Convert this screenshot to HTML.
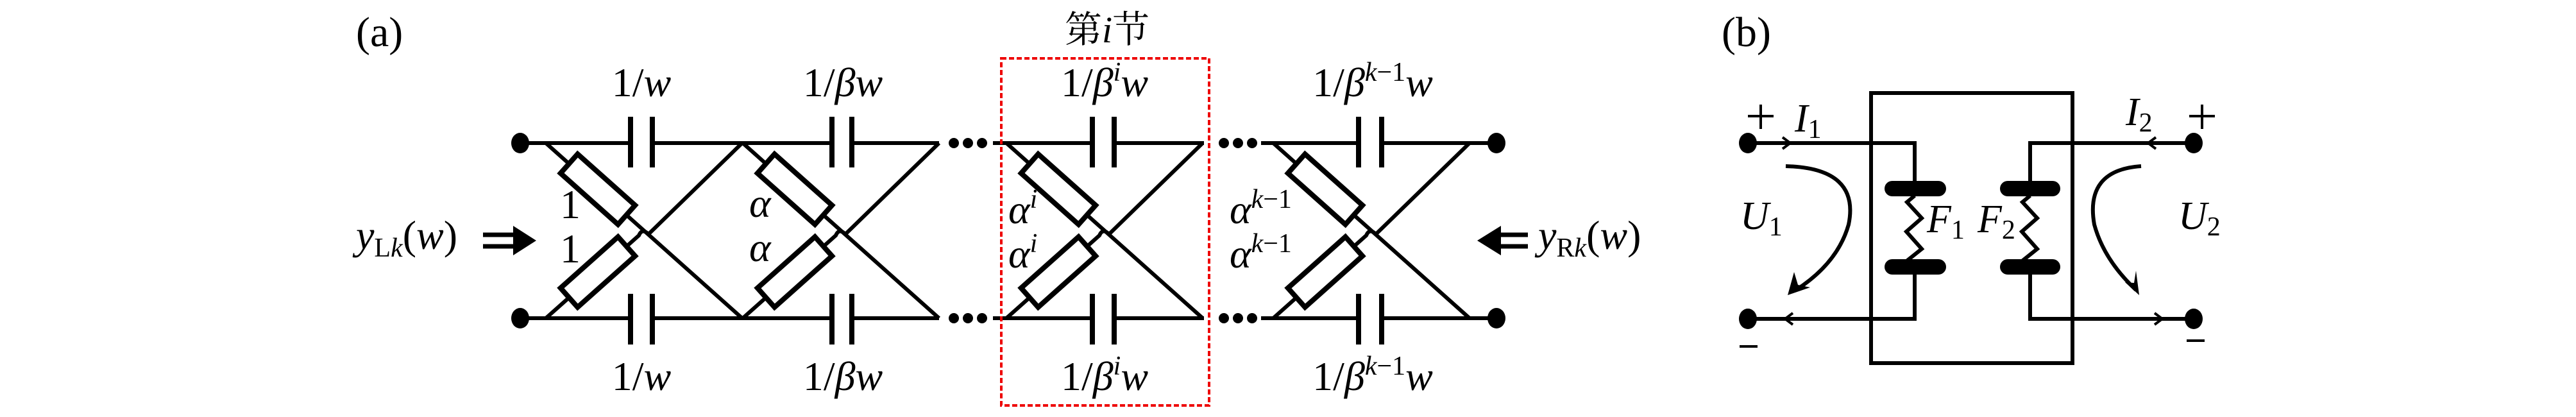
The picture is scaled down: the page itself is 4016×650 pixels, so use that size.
<!DOCTYPE html>
<html><head><meta charset="utf-8"><style>
html,body{margin:0;padding:0;background:#fff;}
svg{display:block}
text{font-family:"Liberation Serif","Noto Serif CJK SC",serif;fill:#000}
.m{font-style:italic}
</style></head><body>
<svg width="4016" height="650" viewBox="0 0 4016 650" xmlns="http://www.w3.org/2000/svg">
<g stroke="#000" fill="none" stroke-width="6" stroke-linecap="butt">
<path d="M811 223H983M1017 223H1297M1328 223H1464"/>
<path d="M811 496H983M1017 496H1297M1328 496H1464"/>
<path d="M1548 223H1703M1737 223H1877"/>
<path d="M1548 496H1703M1737 496H1877"/>
<path d="M1966 223H2118M2154 223H2333"/>
<path d="M1966 496H2118M2154 496H2333"/>
</g>
<g stroke="#000" stroke-width="8">
<path d="M983 182V261M1017 182V261M1297 182V261M1328 182V261M1703 182V261M1737 182V261M2118 182V261M2154 182V261"/>
<path d="M983 458V537M1017 458V537M1297 458V537M1328 458V537M1703 458V537M1737 458V537M2118 458V537M2154 458V537"/>
</g>
<g fill="#000">
<ellipse cx="811" cy="223" rx="14" ry="16"/><ellipse cx="811" cy="496" rx="14" ry="16"/>
<ellipse cx="2333" cy="223" rx="14" ry="16"/><ellipse cx="2333" cy="496" rx="14" ry="16"/>
<circle cx="1487" cy="223" r="8"/><circle cx="1509" cy="223" r="8"/><circle cx="1531" cy="223" r="8"/>
<circle cx="1487" cy="496" r="8"/><circle cx="1509" cy="496" r="8"/><circle cx="1531" cy="496" r="8"/>
<circle cx="1908" cy="223" r="8"/><circle cx="1930" cy="223" r="8"/><circle cx="1952" cy="223" r="8"/>
<circle cx="1908" cy="496" r="8"/><circle cx="1930" cy="496" r="8"/><circle cx="1952" cy="496" r="8"/>
</g>
<defs>
<g id="sec">
<path d="M0 0L306 273" stroke="#000" stroke-width="6" fill="none"/>
<path d="M0 273L145 144Q150 132 160 142L306 0" stroke="#000" stroke-width="6" fill="none"/>
<g transform="translate(81,72) rotate(41.7)">
<rect x="-60" y="-20" width="120" height="40" fill="#fff" stroke="#000" stroke-width="8"/>
</g>
<g transform="translate(81,201) rotate(-41.7)">
<rect x="-60" y="-20" width="120" height="40" fill="#fff" stroke="#000" stroke-width="8"/>
</g>
</g>
</defs>
<use href="#sec" transform="translate(851,223)"/>
<use href="#sec" transform="translate(1158,223)"/>
<use href="#sec" transform="translate(1569,223)"/>
<use href="#sec" transform="translate(1985,223)"/>
<rect x="1561" y="91" width="324" height="541" fill="none" stroke="#e00" stroke-width="4" stroke-dasharray="8 4"/>
<g stroke="#000" stroke-width="7"><path d="M753 366H805M753 384H805"/><path d="M2335 366H2382M2335 384H2382"/></g>
<path d="M800 352L836 375L800 398Z" fill="#000"/>
<path d="M2340 352L2303 375L2340 398Z" fill="#000"/>
<text x="555" y="72" font-size="66">(a)</text>
<text x="1660" y="66" font-size="58">第<tspan class="m">i</tspan>节</text>
<g font-size="64">
<text x="1000" y="150" text-anchor="middle">1/<tspan class="m">w</tspan></text>
<text x="1000" y="608" text-anchor="middle">1/<tspan class="m">w</tspan></text>
<text x="1314" y="150" text-anchor="middle">1/<tspan class="m">βw</tspan></text>
<text x="1314" y="608" text-anchor="middle">1/<tspan class="m">βw</tspan></text>
<text x="1722" y="150" text-anchor="middle">1/<tspan class="m">β</tspan><tspan class="m" font-size="42" dy="-24">i</tspan><tspan class="m" dy="24">w</tspan></text>
<text x="1722" y="608" text-anchor="middle">1/<tspan class="m">β</tspan><tspan class="m" font-size="42" dy="-24">i</tspan><tspan class="m" dy="24">w</tspan></text>
<text x="2140" y="150" text-anchor="middle">1/<tspan class="m">β</tspan><tspan font-size="42" dy="-24"><tspan class="m">k</tspan>−1</tspan><tspan class="m" dy="24">w</tspan></text>
<text x="2140" y="608" text-anchor="middle">1/<tspan class="m">β</tspan><tspan font-size="42" dy="-24"><tspan class="m">k</tspan>−1</tspan><tspan class="m" dy="24">w</tspan></text>
<text x="873" y="340">1</text>
<text x="873" y="409">1</text>
<text x="1168" y="338" class="m">α</text>
<text x="1168" y="407" class="m">α</text>
<text x="1572" y="348" class="m">α<tspan font-size="42" dy="-24">i</tspan></text>
<text x="1572" y="417" class="m">α<tspan font-size="42" dy="-24">i</tspan></text>
<text x="1917" y="348" class="m">α<tspan font-size="42" dy="-24"><tspan class="m">k</tspan><tspan font-style="normal">−1</tspan></tspan></text>
<text x="1917" y="417" class="m">α<tspan font-size="42" dy="-24"><tspan class="m">k</tspan><tspan font-style="normal">−1</tspan></tspan></text>
<text x="555" y="388"><tspan class="m">y</tspan><tspan font-size="42" dy="12">L<tspan class="m">k</tspan></tspan><tspan dy="-12">(<tspan class="m">w</tspan>)</tspan></text>
<text x="2398" y="388"><tspan class="m">y</tspan><tspan font-size="42" dy="12">R<tspan class="m">k</tspan></tspan><tspan dy="-12">(<tspan class="m">w</tspan>)</tspan></text>
</g>
<text x="2684" y="72" font-size="66">(b)</text>
<g stroke="#000" stroke-width="6" fill="none">
<rect x="2917" y="145" width="314" height="421"/>
<path d="M2725 223H2985V284"/>
<path d="M2985 427V497H2725"/>
<path d="M3420 223H3165V284"/>
<path d="M3165 427V497H3420"/>
<path d="M2985 305L2973 315L2996 340L2972 361L2996 388L2976 404L2985 412"/>
<path d="M3165 305L3153 315L3176 340L3152 361L3176 388L3156 404L3165 412"/>
<path d="M2784 259Q2900 262 2882 350Q2865 410 2800 452"/>
<path d="M3338 259Q3250 265 3265 350Q3280 405 3330 452"/>
<path d="M2779 214L2791 223L2779 232M2795 488L2783 497L2795 506M3361 214L3349 223L3361 232M3359 488L3371 497L3359 506" stroke-width="4"/>
</g>
<g stroke="#000" stroke-width="24" stroke-linecap="round">
<path d="M2950 294H3022M2950 416H3022M3130 294H3200M3130 416H3200"/>
</g>
<g fill="#000">
<ellipse cx="2725" cy="223" rx="14" ry="16"/><ellipse cx="2725" cy="497" rx="14" ry="16"/>
<ellipse cx="3420" cy="223" rx="14" ry="16"/><ellipse cx="3420" cy="497" rx="14" ry="16"/>
<path d="M2787 460L2797 424L2803 444L2822 448Z"/>
<path d="M3335 460L3313 440L3327 441L3330 422Z"/>
</g>
<g stroke="#000" stroke-width="4"><path d="M2725 181H2765M2745 163V201M3413 181H3453M3433 163V201M2712 540H2740M3409 531H3437"/></g>
<g font-size="62">
<text x="2798" y="205" class="m">I<tspan font-size="42" font-style="normal" dy="10">1</tspan></text>
<text x="3314" y="195" class="m">I<tspan font-size="42" font-style="normal" dy="10">2</tspan></text>
<text x="2713" y="357" class="m">U<tspan font-size="42" font-style="normal" dy="10">1</tspan></text>
<text x="3396" y="357" class="m">U<tspan font-size="42" font-style="normal" dy="10">2</tspan></text>
<text x="3004" y="362" class="m">F<tspan font-size="42" font-style="normal" dy="10">1</tspan></text>
<text x="3083" y="362" class="m">F<tspan font-size="42" font-style="normal" dy="10">2</tspan></text>
</g>
</svg>
</body></html>
